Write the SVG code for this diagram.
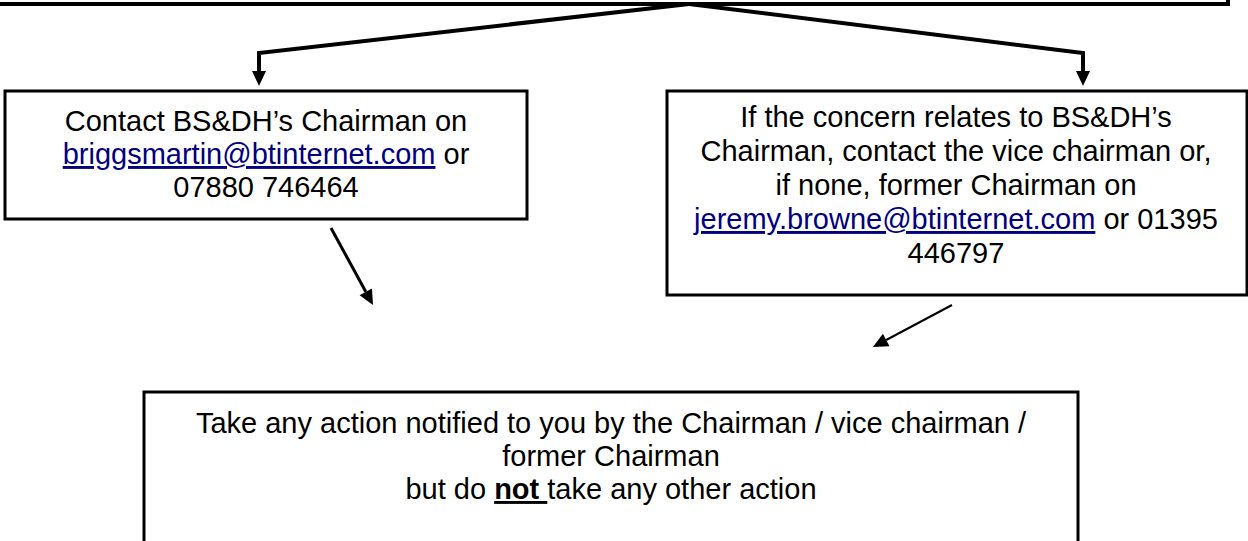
<svg xmlns="http://www.w3.org/2000/svg" width="1248" height="541" viewBox="0 0 1248 541">
  <style>
    .box { fill: #ffffff; stroke: #000000; stroke-width: 3; }
    .txt { font-family: "Liberation Sans", Arial, sans-serif; font-size: 29px; fill: #000000; text-anchor: middle; }
    .link { fill: #000080; text-decoration: underline; }
    .conn { fill: none; stroke: #000000; }
  </style>
  <defs>
    <marker id="arrow" markerUnits="userSpaceOnUse" markerWidth="16" markerHeight="14" refX="0" refY="7" orient="auto" overflow="visible">
      <path d="M0,0 L15,7 L0,14 z" fill="#000000"/>
    </marker>
  </defs>

  <g id="top-box">
    <path d="M-10,4 L1228,4 L1228,-10" fill="none" stroke="#000000" stroke-width="4"/>
  </g>

  <g id="connectors">
    <polyline class="conn" stroke-width="4" points="689,4 259,53 259,71" marker-end="url(#arrow)"/>
    <polyline class="conn" stroke-width="4" points="689,4 1083,53 1083,71" marker-end="url(#arrow)"/>
    <line class="conn" stroke-width="3" x1="331" y1="228" x2="365.8" y2="291.8" marker-end="url(#arrow)"/>
    <line class="conn" stroke-width="2" x1="952" y1="305" x2="886.2" y2="340" marker-end="url(#arrow)"/>
  </g>

  <g id="node-left">
    <rect class="box" x="5" y="91" width="522" height="128"/>
    <text class="txt" x="266" y="131">Contact BS&amp;DH’s Chairman on</text>
    <text class="txt" x="266" y="164"><tspan class="link">briggsmartin@btinternet.com</tspan> or</text>
    <text class="txt" x="266" y="197">07880 746464</text>
  </g>

  <g id="node-right">
    <rect class="box" x="667" y="91" width="580" height="204"/>
    <text class="txt" x="956" y="127">If the concern relates to BS&amp;DH’s</text>
    <text class="txt" x="956" y="161">Chairman, contact the vice chairman or,</text>
    <text class="txt" x="956" y="195">if none, former Chairman on</text>
    <text class="txt" x="956" y="229"><tspan class="link">jeremy.browne@btinternet.com</tspan> or 01395</text>
    <text class="txt" x="956" y="263">446797</text>
  </g>

  <g id="node-bottom">
    <rect class="box" x="144" y="392" width="934" height="170"/>
    <text class="txt" x="611" y="433">Take any action notified to you by the Chairman / vice chairman /</text>
    <text class="txt" x="611" y="466">former Chairman</text>
    <text class="txt" x="611" y="499">but do <tspan font-weight="bold" text-decoration="underline">not </tspan>take any other action</text>
  </g>
</svg>
